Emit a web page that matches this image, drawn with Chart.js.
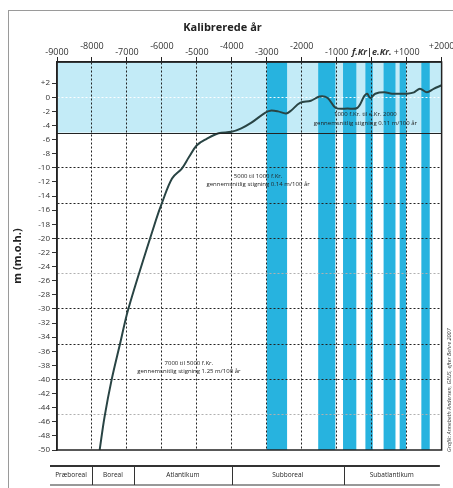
<!DOCTYPE html>
<html>
<head>
<meta charset="utf-8">
<script src="https://cdn.jsdelivr.net/npm/chart.js@4.4.1/dist/chart.umd.min.js"></script>
<style>
  html, body { margin: 0; padding: 0; background: #fff; }
  #wrap { width: 453px; height: 488px; }
</style>
</head>
<body>
<div id="wrap"><canvas id="seaChart" width="453" height="488"></canvas></div>
<script>
// Sea level curve (calibrated years, metres above sea level)
const seaYears  = [-7780, -7640, -7440, -7190, -6960, -6170, -6000, -5710, -5430, -5230, -5000, -4720, -4380, -4010, -3730, -3440, -3050, -2900, -2680, -2450, -2310, -2050, -1740, -1490, -1260, -1030, -690, -410, -210, -130, -40, 100, 360, 580, 810, 1010, 1210, 1380, 1580, 1770, 2000];
const seaLevels = [-50, -45.3, -40.1, -34.8, -30.0, -17.4, -15.0, -11.5, -10.1, -8.5, -6.8, -5.9, -5.1, -4.9, -4.4, -3.6, -2.2, -1.9, -2.0, -2.3, -1.9, -0.8, -0.5, 0.1, -0.1, -1.5, -1.6, -1.5, 0.2, 0.5, -0.1, 0.5, 0.7, 0.5, 0.5, 0.5, 0.7, 1.2, 0.7, 1.2, 1.7];

// Dark blue vertical bands (start / end year)
const bandStart = [-3000, -1530, -820, -180, 340, 800, 1420];
const bandEnd   = [-2420, -1040, -440,   30, 680, 980, 1660];
const shallowLimit = -5;   // light blue zone above this level

// Axis ticks: the year labels are printed in two staggered rows
const xTicks = [-9000, -8000, -7000, -6000, -5000, -4000, -3000, -2000, -1000, 0, 1000, 2000];
const xUpper = [-8000, -6000, -4000, -2000, 2000];

// Pollen zones along the bottom
const periodNames = ['Præboreal', 'Boreal', 'Atlantikum', 'Subboreal', 'Subatlantikum'];
const periodStart = [-9200, -8000, -6800, -4000, -800];
const periodEnd   = [-8000, -6800, -4000, -800, 1950];

// Text notes on the chart
const noteYears  = [-180, -3250, -5230];
const noteLevels = [-2.45, -11.2, -37.7];
const noteLines  = [
  ['1000 f.Kr. til e.Kr. 2000', 'gennemsnitlig stigning 0.11 m/100 år'],
  ['5000 til 1000 f.Kr.', 'gennemsnitlig stigning 0.14 m/100 år'],
  ['7000 til 5000 f.Kr.', 'gennemsnitlig stigning 1.25 m/100 år']
];

const FONT  = "'Open Sans', 'DejaVu Sans', sans-serif";
const LIGHT = '#c3ebf7';
const DARK  = '#27b3df';
const INK   = '#222';
const NONE  = 'rgba(0,0,0,0)';

// Backgrounds: drawn before the grid so dashed lines stay visible on top
const bandsPlugin = {
  id: 'bands',
  beforeDraw(chart) {
    const { ctx, chartArea: a, scales: { x, y } } = chart;
    ctx.save();
    const yTop = y.getPixelForValue(y.max);
    const yEdge = y.getPixelForValue(shallowLimit);
    ctx.fillStyle = LIGHT;
    ctx.fillRect(a.left, yTop, a.right - a.left, yEdge - yTop);
    ctx.fillStyle = DARK;
    bandStart.forEach((s, i) => {
      const x0 = x.getPixelForValue(s);
      const x1 = x.getPixelForValue(bandEnd[i]);
      ctx.fillRect(x0, a.top, x1 - x0, a.bottom - a.top);
    });
    ctx.restore();
  }
};

// Frame, notes, zone strip, credit line
const extrasPlugin = {
  id: 'extras',
  afterDraw(chart) {
    const { ctx, chartArea: a, scales: { x, y } } = chart;
    ctx.save();

    // outer page frame
    ctx.strokeStyle = '#9a9a9a';
    ctx.lineWidth = 1;
    ctx.strokeRect(8.5, 10.5, 460, 490);

    // plot frame
    ctx.strokeStyle = INK;
    ctx.lineWidth = 1.5;
    ctx.strokeRect(a.left, a.top, a.right - a.left, a.bottom - a.top);

    // solid edge of the shallow zone
    const yEdge = Math.round(y.getPixelForValue(shallowLimit)) + 0.5;
    ctx.lineWidth = 1;
    ctx.beginPath(); ctx.moveTo(a.left, yEdge); ctx.lineTo(a.right, yEdge); ctx.stroke();

    // notes
    ctx.fillStyle = INK;
    ctx.font = `6px ${FONT}`;
    ctx.textAlign = 'center';
    ctx.textBaseline = 'middle';
    noteLines.forEach((lines, i) => {
      const px = x.getPixelForValue(noteYears[i]);
      const py = y.getPixelForValue(noteLevels[i]);
      lines.forEach((t, j) => ctx.fillText(t, px, py + j * 8.5));
    });

    // zone strip
    const top = 466, bot = 485;
    const x0 = x.getPixelForValue(periodStart[0]);
    const x1 = x.getPixelForValue(periodEnd[periodEnd.length - 1]);
    ctx.strokeStyle = '#333';
    ctx.lineWidth = 1.8;
    ctx.beginPath(); ctx.moveTo(x0, top); ctx.lineTo(x1, top); ctx.stroke();
    ctx.lineWidth = 1.2;
    ctx.beginPath(); ctx.moveTo(x0, bot); ctx.lineTo(x1, bot); ctx.stroke();
    ctx.lineWidth = 1;
    ctx.font = `6.5px ${FONT}`;
    periodNames.forEach((name, i) => {
      const s = x.getPixelForValue(periodStart[i]);
      const e = x.getPixelForValue(periodEnd[i]);
      if (i > 0) {
        ctx.beginPath(); ctx.moveTo(Math.round(s) + 0.5, top); ctx.lineTo(Math.round(s) + 0.5, bot); ctx.stroke();
      }
      ctx.fillText(name, (s + e) / 2, (top + bot) / 2);
    });

    // credit
    ctx.translate(449, 452);
    ctx.rotate(-Math.PI / 2);
    ctx.textAlign = 'left';
    ctx.font = `italic 5.5px ${FONT}`;
    ctx.fillStyle = '#333';
    ctx.fillText('Grafik: Annebeth Andersen, GEUS, efter Behre 2007', 0, 0);
    ctx.restore();
  }
};

function yLabelShown(v) { return v % 2 === 0 && v <= 2; }

function yGridColor(v) {
  if (v === 0) return 'rgba(255,255,255,0.95)';
  if (v === -25 || v === -45) return '#b0b0b0';
  if (v % 5 === 0 && v > -50 && v < 5 && v !== shallowLimit) return INK;
  return NONE;
}

function yearLabel(v) {
  return v === 0 ? 'f.Kr|e.Kr.' : (v > 0 ? '+' + v : String(v));
}

const tickFont = c => (c.tick && c.tick.value === 0)
  ? { family: FONT, size: 9, weight: 'bold', style: 'italic', lineHeight: 1 }
  : { family: FONT, size: 9, lineHeight: 1 };

// The two year-label rows overlap their thin axis boxes; stop Chart.js clipping them.
function fitYearAxis(height) {
  return s => {
    s.height = height;
    s._computeLabelArea = () => undefined;
  };
}

new Chart(document.getElementById('seaChart'), {
  type: 'line',
  data: {
    datasets: [{
      data: seaYears.map((yr, i) => ({ x: yr, y: seaLevels[i] })),
      borderColor: '#294444',
      borderWidth: 2,
      pointRadius: 0,
      tension: 0.35,
      fill: false
    }]
  },
  options: {
    responsive: false,
    animation: false,
    layout: { padding: { left: 0, right: 8, top: 0, bottom: 38 } },
    plugins: {
      legend: { display: false },
      tooltip: { enabled: false },
      title: {
        display: true,
        text: 'Kalibrerede år',
        color: INK,
        font: { family: FONT, size: 11, weight: 'bold', lineHeight: 1.2 },
        padding: { top: 21, bottom: 2 }
      }
    },
    scales: {
      // inner year axis: grid, ticks and the lower row of labels
      x: {
        type: 'linear',
        position: 'top',
        weight: 0,
        min: -9000, max: 2000,
        afterFit: fitYearAxis(13),
        afterBuildTicks: s => { s.ticks = xTicks.map(v => ({ value: v })); },
        grid: {
          color: c => (c.tick && c.tick.value > -9000 && c.tick.value < 2000) ? INK : NONE,
          tickColor: INK,
          tickLength: 5,
          lineWidth: 1
        },
        border: { color: INK, width: 1.5, dash: [2, 2] },
        ticks: {
          autoSkip: false,
          maxRotation: 0,
          padding: 0,
          color: '#333',
          font: tickFont,
          callback: v => xUpper.includes(v) ? '' : yearLabel(v)
        }
      },
      // outer year axis: only the upper row of labels
      xTop: {
        type: 'linear',
        position: 'top',
        weight: 1,
        min: -9000, max: 2000,
        afterFit: fitYearAxis(12.8),
        afterBuildTicks: s => { s.ticks = xTicks.map(v => ({ value: v })); },
        grid: { display: false, drawTicks: false },
        border: { display: false },
        ticks: {
          autoSkip: false,
          maxRotation: 0,
          padding: -1.5,
          color: '#333',
          font: tickFont,
          callback: v => xUpper.includes(v) ? yearLabel(v) : ''
        }
      },
      y: {
        type: 'linear',
        min: -50, max: 5,
        afterFit: s => { s.width = 57; },
        afterBuildTicks: s => {
          const t = [];
          for (let v = -50; v <= 5; v++) t.push({ value: v });
          s.ticks = t;
        },
        grid: {
          color: c => c.tick ? yGridColor(c.tick.value) : NONE,
          tickColor: c => (c.tick && yLabelShown(c.tick.value)) ? '#333' : NONE,
          tickLength: 5,
          lineWidth: 1
        },
        border: { color: INK, width: 1.5, dash: [2, 2] },
        title: {
          display: true,
          text: 'm (m.o.h.)',
          color: INK,
          font: { family: FONT, size: 11, weight: 'bold' },
          padding: { top: 11, bottom: 0 }
        },
        ticks: {
          autoSkip: false,
          padding: 2,
          color: '#333',
          font: { family: FONT, size: 8 },
          callback: v => yLabelShown(v) ? (v > 0 ? '+' + v : String(v)) : ''
        }
      }
    }
  },
  plugins: [bandsPlugin, extrasPlugin]
});
</script>
</body>
</html>
